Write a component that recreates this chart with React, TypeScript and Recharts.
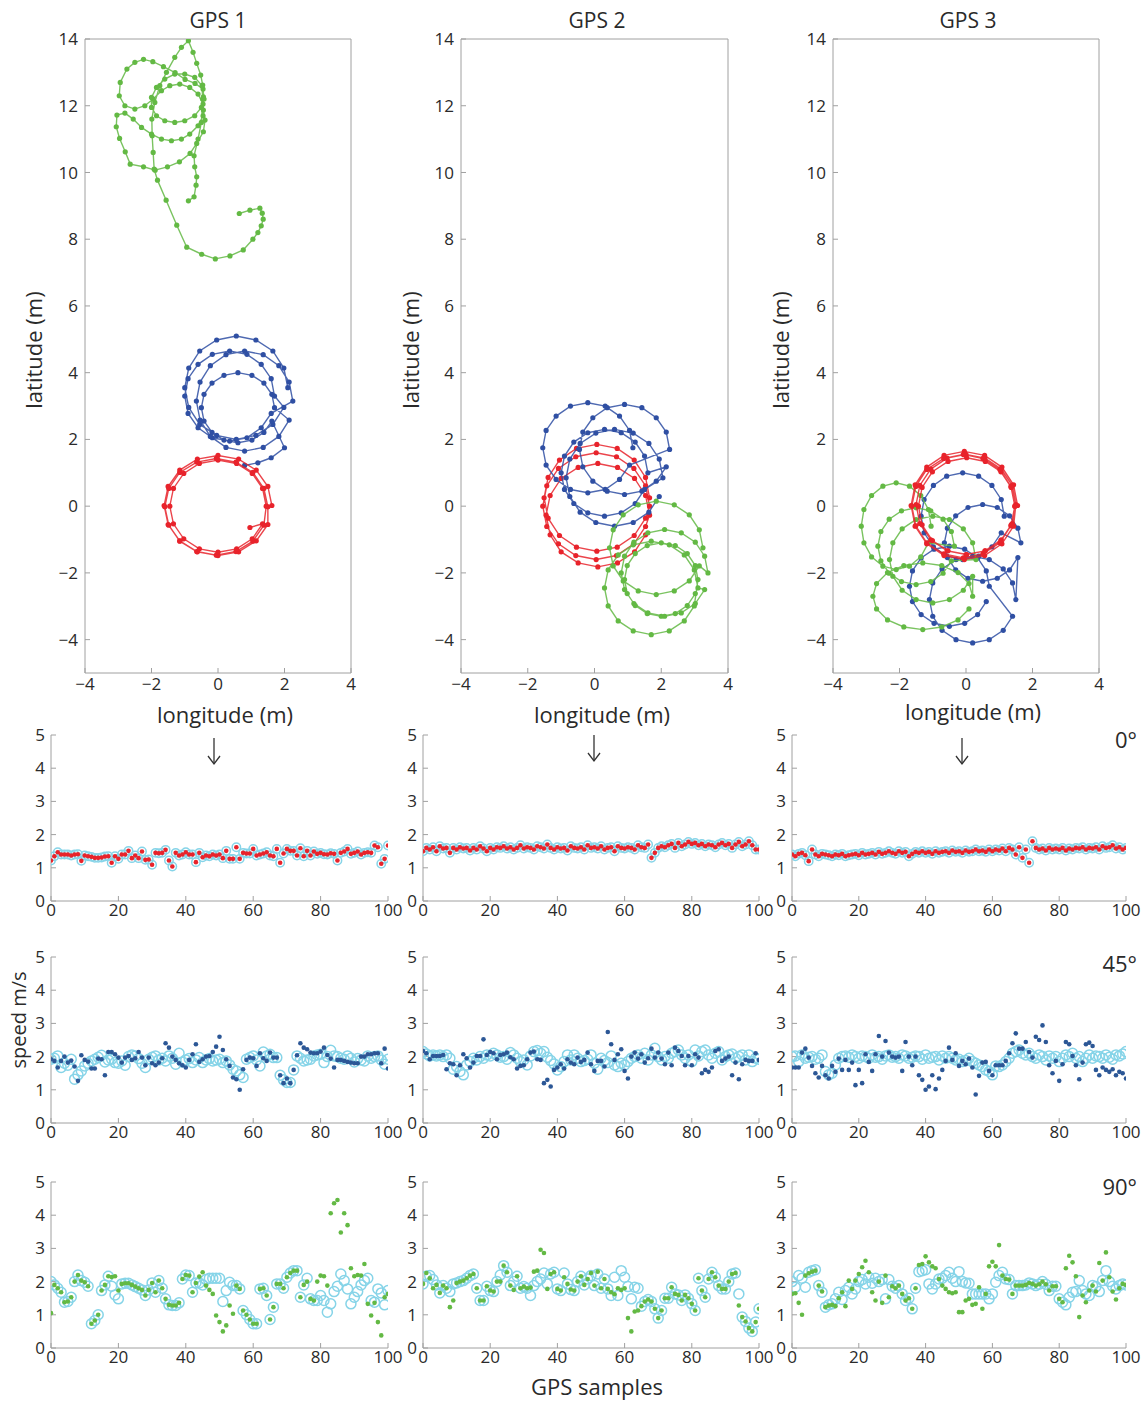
import React from 'react';
import { ScatterChart, Scatter, XAxis, YAxis } from 'recharts';

const FONT = '"Open Sans", "Noto Sans", "DejaVu Sans", sans-serif';
const AXIS = '#a0a0a0';
const TXT = '#2a2a2a';
const RED = '#e8232b';
const BLUE = '#2f4fa3';
const GREEN = '#63b944';
const DARKDOT = '#2c5796';
const RING = '#86d4e8';

// ---------- trajectories (longitude / latitude, m) ----------
const gps1RedX = [1.62,1.50,1.15,0.62,0,-0.62,-1.15,-1.50,-1.62,-1.50,-1.15,-0.62,0,0.62,1.15,1.50,
  1.50,1.38,1.05,0.54,-0.05,-0.64,-1.15,-1.48,-1.60,-1.48,-1.15,-0.64,-0.05,0.54,1.05,1.38,
  1.45,1.34,1.03,0.56,0,-0.56,-1.03,-1.34,-1.45,-1.34,-1.03,-0.56,0,0.56,1.03,1.34,0.96];
const gps1RedY = [0.02,0.59,1.08,1.41,1.52,1.41,1.08,0.59,0.02,-0.55,-1.04,-1.37,-1.48,-1.37,-1.04,-0.55,
  -0.02,0.53,1.01,1.32,1.43,1.32,1.01,0.53,-0.02,-0.57,-1.05,-1.36,-1.47,-1.36,-1.05,-0.57,
  0,0.53,0.98,1.28,1.38,1.28,0.98,0.53,0,-0.53,-0.98,-1.28,-1.38,-1.28,-0.98,-0.53,-0.64];

const gps1BlueX = [2.10,1.98,1.65,1.14,0.55,-0.04,-0.55,-0.88,-1.0,-0.88,-0.55,-0.04,0.55,1.14,1.65,1.98,
  1.70,1.60,1.30,0.87,0.35,-0.17,-0.60,-0.90,-1.0,-0.90,-0.60,-0.17,0.35,0.87,1.30,1.60,
  2.25,2.14,1.83,1.36,0.8,0.24,-0.23,-0.54,-0.65,-0.54,-0.23,0.24,0.8,1.36,1.83,2.14,
  1.70,1.62,1.38,1.02,0.6,0.18,-0.18,-0.42,-0.5,-0.42,-0.18,0.18,0.6,1.02,1.38,1.62,
  2.0,1.6,1.2,0.8];
const gps1BlueY = [3.55,4.14,4.65,4.98,5.10,4.98,4.65,4.14,3.55,2.96,2.45,2.12,2.0,2.12,2.45,2.96,
  3.3,3.82,4.25,4.55,4.65,4.55,4.25,3.82,3.3,2.78,2.35,2.05,1.95,2.05,2.35,2.78,
  3.15,3.72,4.21,4.54,4.65,4.54,4.21,3.72,3.15,2.58,2.09,1.76,1.65,1.76,2.09,2.58,
  2.95,3.35,3.69,3.92,4.0,3.92,3.69,3.35,2.95,2.55,2.21,1.98,1.9,1.98,2.21,2.55,
  1.75,1.45,1.3,1.22];

const gps1GreenX = [0.64,0.96,1.26,1.33,1.36,1.3,1.2,1.05,0.76,0.36,-0.08,-0.49,-0.94,-1.24,-1.56,-1.82,-1.92,-1.95,-1.98,-1.99,
  -1.9,-1.75,-1.55,-1.3,-1.1,-0.89,-0.75,-0.64,-0.52,-0.46,-0.44,-0.44,-0.39,-0.44,-0.64,-0.84,-1.16,-1.52,-1.89,-2.24,
  -2.64,-2.79,-2.96,-3.06,-3.04,-2.8,-2.55,-2.3,-2.0,-1.7,-1.4,-1.1,-0.85,-0.6,-0.45,-0.45,-0.6,-0.85,-1.15,-1.45,
  -1.7,-1.95,-2.2,-2.5,-2.8,-2.97,-2.94,-2.74,-2.5,-2.24,-1.96,-1.64,-1.29,-0.99,-0.69,-0.45,-0.42,-0.5,-0.7,-1.0,
  -1.3,-1.6,-1.85,-2.0,-2.0,-1.85,-1.6,-1.3,-1.0,-0.7,-0.48,-0.46,-0.5,-0.6,-0.72,-0.7,-0.64,-0.66,-0.72,-0.89];
const gps1GreenY = [8.77,8.87,8.93,8.78,8.6,8.4,8.2,8.0,7.68,7.5,7.41,7.55,7.76,8.42,9.17,9.77,10.1,10.6,11.1,11.6,
  12.1,12.6,13.0,13.45,13.75,13.95,13.6,13.27,12.92,12.62,12.27,11.87,11.57,11.22,10.87,10.57,10.32,10.17,10.07,10.17,
  10.25,10.62,11.02,11.37,11.72,11.78,11.6,11.35,11.15,11.0,10.95,11.0,11.15,11.4,11.7,12.05,12.35,12.55,12.65,12.6,
  12.45,12.2,12.0,11.9,12.0,12.3,12.7,13.1,13.3,13.39,13.32,13.17,12.99,12.79,12.67,12.5,12.2,11.95,11.7,11.55,
  11.5,11.55,11.7,11.95,12.25,12.55,12.8,12.95,12.95,12.85,12.6,12.2,11.5,11.0,10.5,10.17,9.87,9.62,9.27,9.15];

const gps2RedX = [1.65,1.53,1.19,0.68,0.07,-0.54,-1.05,-1.39,-1.51,-1.39,-1.05,-0.54,0.07,0.68,1.19,1.53,
  1.65,1.53,1.18,0.66,0.05,-0.56,-1.08,-1.43,-1.55,-1.43,-1.08,-0.56,0.05,0.66,1.18,1.53,
  1.65,1.53,1.20,0.69,0.1,-0.49,-1.0,-1.33,-1.45,-1.33,-1.0,-0.49,0.1,0.69,1.20,1.53];
const gps2RedY = [0.25,0.86,1.38,1.73,1.85,1.73,1.38,0.86,0.25,-0.36,-0.88,-1.23,-1.35,-1.23,-0.88,-0.36,
  0,0.61,1.13,1.48,1.6,1.48,1.13,0.61,0,-0.61,-1.13,-1.48,-1.6,-1.48,-1.13,-0.61,
  -0.27,0.32,0.83,1.16,1.28,1.16,0.83,0.32,-0.27,-0.86,-1.37,-1.70,-1.82,-1.70,-1.37,-0.86];

const gps2BlueX = [1.15,1.05,0.75,0.32,-0.2,-0.72,-1.15,-1.45,-1.55,-1.45,-1.15,-0.72,-0.2,0.32,0.75,1.05,
  2.25,2.15,1.85,1.42,0.9,0.38,-0.05,-0.35,-0.45,-0.35,-0.05,0.38,0.9,1.42,1.85,2.15,
  1.6,1.5,1.22,0.8,0.3,-0.2,-0.62,-0.9,-1.0,-0.9,-0.62,-0.2,0.3,0.8,1.22,1.5,
  2.05,1.94,1.63,1.16,0.6,0.04,-0.43,-0.74,-0.85,-0.74,-0.43,0.04,0.6,1.16,1.63,1.94];
const gps2BlueY = [1.75,2.27,2.70,3.0,3.1,3.0,2.70,2.27,1.75,1.23,0.80,0.50,0.40,0.50,0.80,1.23,
  1.7,2.22,2.65,2.95,3.05,2.95,2.65,2.22,1.7,1.18,0.75,0.45,0.35,0.45,0.75,1.18,
  1.0,1.5,1.92,2.2,2.3,2.2,1.92,1.5,1.0,0.5,0.08,-0.2,-0.3,-0.2,0.08,0.5,
  0.85,1.41,1.88,2.19,2.3,2.19,1.88,1.41,0.85,0.29,-0.18,-0.49,-0.6,-0.49,-0.18,0.29];

const gps2GreenX = [3.25,3.14,2.84,2.39,1.85,1.31,0.86,0.56,0.45,0.56,0.86,1.31,1.85,2.39,2.84,3.14,
  3.4,3.3,3.02,2.6,2.1,1.6,1.18,0.9,0.8,0.9,1.18,1.6,2.1,2.6,3.02,3.3,
  3.1,2.99,2.69,2.24,1.7,1.16,0.71,0.41,0.3,0.41,0.71,1.16,1.7,2.24,2.69,2.99,
  3.1,3.02,2.78,2.42,2.0,1.58,1.22,0.98,0.9,0.98,1.22,1.58,2.0,2.42,2.78,3.02];
const gps2GreenY = [-1.25,-0.71,-0.26,0.04,0.15,0.04,-0.26,-0.71,-1.25,-1.79,-2.24,-2.54,-2.65,-2.54,-2.24,-1.79,
  -2.0,-1.5,-1.08,-0.8,-0.7,-0.8,-1.08,-1.5,-2.0,-2.5,-2.92,-3.2,-3.3,-3.2,-2.92,-2.5,
  -2.45,-1.91,-1.46,-1.16,-1.05,-1.16,-1.46,-1.91,-2.45,-2.99,-3.44,-3.74,-3.85,-3.74,-3.44,-2.99,
  -2.2,-1.78,-1.42,-1.18,-1.1,-1.18,-1.42,-1.78,-2.2,-2.62,-2.98,-3.22,-3.3,-3.22,-2.98,-2.62];

const gps3RedX = [1.55,1.43,1.08,0.56,-0.05,-0.66,-1.18,-1.53,-1.65,-1.53,-1.18,-0.66,-0.05,0.56,1.08,1.43,
  1.5,1.39,1.06,0.57,0,-0.57,-1.06,-1.39,-1.5,-1.39,-1.06,-0.57,0,0.57,1.06,1.39,
  1.47,1.35,1.02,0.51,-0.08,-0.67,-1.18,-1.51,-1.63,-1.51,-1.18,-0.67,-0.08,0.51,1.02,1.35,
  1.47,1.36,1.05,0.58,0.02,-0.54,-1.01,-1.32,-1.43,-1.32,-1.01,-0.54,0.02,0.58,1.05,1.36];
const gps3RedY = [0.02,0.64,1.17,1.52,1.64,1.52,1.17,0.64,0.02,-0.60,-1.13,-1.48,-1.60,-1.48,-1.13,-0.60,
  0.05,0.62,1.11,1.44,1.55,1.44,1.11,0.62,0.05,-0.52,-1.01,-1.34,-1.45,-1.34,-1.01,-0.52,
  0,0.59,1.10,1.43,1.55,1.43,1.10,0.59,0,-0.59,-1.10,-1.43,-1.55,-1.43,-1.10,-0.59,
  0,0.56,1.03,1.34,1.45,1.34,1.03,0.56,0,-0.56,-1.03,-1.34,-1.45,-1.34,-1.03,-0.56];

const gps3BlueX = [1.15,1.06,0.78,0.38,-0.1,-0.58,-0.98,-1.26,-1.35,-1.26,-0.98,-0.58,-0.1,0.38,0.78,1.06,
  1.65,1.56,1.31,0.94,0.5,0.06,-0.31,-0.56,-0.65,-0.56,-0.31,0.06,0.5,0.94,1.31,1.56,
  1.5,1.4,1.12,0.7,0.2,-0.3,-0.72,-1.0,-1.1,-1.0,-0.72,-0.3,0.2,0.7,1.12,1.4,
  0.7,0.61,0.35,-0.04,-0.5,-0.96,-1.35,-1.61,-1.7,-1.61,-1.35,-0.96,-0.5,-0.04,0.35,0.61];
const gps3BlueY = [-0.3,0.2,0.62,0.9,1.0,0.9,0.62,0.2,-0.3,-0.8,-1.22,-1.5,-1.6,-1.5,-1.22,-0.8,
  -1.1,-0.66,-0.29,-0.04,0.05,-0.04,-0.29,-0.66,-1.1,-1.54,-1.91,-2.16,-2.25,-2.16,-1.91,-1.54,
  -2.8,-2.3,-1.88,-1.6,-1.5,-1.6,-1.88,-2.3,-2.8,-3.3,-3.72,-4.0,-4.1,-4.0,-3.72,-3.3,
  -2.4,-1.94,-1.55,-1.29,-1.2,-1.29,-1.55,-1.94,-2.4,-2.86,-3.25,-3.51,-3.6,-3.51,-3.25,-2.86];

const gps3GreenX = [-1.05,-1.13,-1.36,-1.7,-2.1,-2.5,-2.84,-3.07,-3.15,-3.07,-2.84,-2.5,-2.1,-1.7,-1.36,-1.13,
  -0.35,-0.44,-0.69,-1.06,-1.5,-1.94,-2.31,-2.56,-2.65,-2.56,-2.31,-1.94,-1.5,-1.06,-0.69,-0.44,
  0.3,0.2,-0.08,-0.5,-1.0,-1.5,-1.92,-2.2,-2.3,-2.2,-1.92,-1.5,-1.0,-0.5,-0.08,0.2,
  0.2,0.09,-0.24,-0.73,-1.3,-1.87,-2.36,-2.69,-2.8,-2.69,-2.36,-1.87,-1.3,-0.73,-0.24,0.09];
const gps3GreenY = [-0.6,-0.1,0.32,0.6,0.7,0.6,0.32,-0.1,-0.6,-1.1,-1.52,-1.8,-1.9,-1.8,-1.52,-1.1,
  -1.2,-0.76,-0.39,-0.14,-0.05,-0.14,-0.39,-0.76,-1.2,-1.64,-2.01,-2.26,-2.35,-2.26,-2.01,-1.64,
  -1.6,-1.1,-0.68,-0.4,-0.3,-0.4,-0.68,-1.1,-1.6,-2.1,-2.52,-2.8,-2.9,-2.8,-2.52,-2.1,
  -2.7,-2.32,-1.99,-1.78,-1.7,-1.78,-1.99,-2.32,-2.7,-3.08,-3.41,-3.62,-3.7,-3.62,-3.41,-3.08];

// ---------- speeds (m/s) per GPS sample ----------
const speed0g1 = [1.22,1.35,1.47,1.4,1.4,1.4,1.37,1.4,1.41,1.21,1.37,1.35,1.33,1.3,1.3,1.31,1.34,1.35,1.15,1.35,
  1.27,1.4,1.4,1.51,1.29,1.37,1.29,1.49,1.24,1.25,1.09,1.45,1.44,1.45,1.54,1.22,1.04,1.45,1.37,1.4,
  1.47,1.4,1.4,1.17,1.45,1.32,1.37,1.35,1.4,1.37,1.4,1.29,1.51,1.27,1.27,1.62,1.27,1.45,1.43,1.43,
  1.57,1.37,1.4,1.43,1.47,1.37,1.35,1.57,1.15,1.43,1.57,1.51,1.51,1.37,1.59,1.35,1.51,1.37,1.49,1.42,
  1.45,1.41,1.4,1.44,1.42,1.22,1.45,1.49,1.57,1.42,1.45,1.49,1.4,1.45,1.47,1.45,1.67,1.62,1.12,1.27,1.67];
const speed0g2 = [1.5,1.6,1.55,1.62,1.5,1.65,1.58,1.6,1.45,1.6,1.55,1.62,1.58,1.6,1.52,1.6,1.55,1.65,1.58,1.5,
  1.6,1.55,1.62,1.6,1.65,1.58,1.62,1.55,1.6,1.68,1.58,1.62,1.6,1.55,1.65,1.62,1.58,1.7,1.6,1.55,
  1.62,1.58,1.6,1.52,1.65,1.6,1.58,1.62,1.55,1.68,1.6,1.62,1.58,1.65,1.55,1.6,1.62,1.5,1.65,1.6,
  1.58,1.62,1.6,1.55,1.68,1.62,1.6,1.7,1.3,1.45,1.6,1.65,1.62,1.68,1.72,1.6,1.75,1.65,1.7,1.78,
  1.72,1.75,1.68,1.72,1.65,1.7,1.68,1.62,1.7,1.75,1.68,1.72,1.6,1.7,1.78,1.65,1.7,1.8,1.68,1.55,1.55];
const speed0g3 = [1.4,1.35,1.42,1.45,1.38,1.2,1.55,1.4,1.35,1.42,1.4,1.38,1.35,1.4,1.38,1.42,1.35,1.38,1.4,1.42,
  1.38,1.45,1.4,1.42,1.45,1.4,1.48,1.42,1.45,1.5,1.45,1.42,1.5,1.45,1.48,1.35,1.42,1.48,1.45,1.5,
  1.45,1.48,1.42,1.5,1.45,1.48,1.5,1.45,1.52,1.48,1.5,1.45,1.52,1.48,1.5,1.55,1.5,1.52,1.48,1.55,
  1.5,1.55,1.52,1.58,1.5,1.6,1.55,1.4,1.62,1.3,1.55,1.15,1.8,1.6,1.55,1.58,1.52,1.6,1.55,1.58,
  1.55,1.6,1.52,1.58,1.55,1.6,1.58,1.62,1.55,1.6,1.58,1.62,1.55,1.65,1.6,1.62,1.68,1.58,1.62,1.55,1.6];

const ref45g1 = [1.92,1.95,2.02,1.67,1.8,1.74,1.92,1.32,1.45,1.57,1.72,1.8,1.87,1.92,1.98,2.04,1.84,1.9,1.92,1.82,
  1.8,1.87,1.74,2.0,2.05,2.02,1.94,1.8,1.67,1.92,1.98,2.02,1.9,1.95,1.87,2.02,1.95,1.77,2.1,1.84,
  1.9,1.94,1.82,1.9,1.97,1.82,1.9,1.94,1.87,1.9,1.92,1.82,1.87,1.75,1.62,1.57,1.45,1.37,1.92,1.97,
  2.02,1.9,1.72,2.14,2.02,2.07,1.97,1.97,1.44,1.3,1.22,1.22,1.6,2.02,1.95,1.87,1.9,1.92,2.02,2.05,
  2.07,1.82,2.0,2.19,2.02,2.0,1.95,1.92,2.02,1.95,1.84,1.94,1.9,1.87,2.02,1.95,2.0,2.02,1.9,1.77,1.92];
const gps45g1 = [1.92,1.87,1.67,1.87,2.0,1.82,1.88,1.7,1.27,2.04,1.9,1.85,1.64,1.64,1.94,1.92,1.44,2.14,2.14,2.07,
  1.97,1.82,1.97,2.02,1.9,1.95,2.14,1.97,1.74,1.97,1.8,1.74,1.82,1.95,2.4,2.27,2.0,1.9,1.8,1.74,
  1.67,1.9,2.07,2.37,1.84,1.92,2.0,2.02,2.14,2.3,2.6,2.2,1.92,1.72,1.37,1.32,1.0,1.62,1.9,1.97,
  1.95,1.72,2.1,1.95,1.87,2.12,1.97,1.97,1.44,1.2,1.34,1.2,1.6,2.04,2.4,2.27,2.22,2.12,2.1,2.1,
  2.15,2.27,2.05,1.94,1.67,1.9,1.9,1.87,1.84,1.82,1.8,1.8,2.0,2.0,2.07,2.07,2.1,2.1,1.8,2.24,1.64];
const ref45g2 = [2.15,2.08,2.02,2.05,2.02,2.05,2.0,2.05,1.95,1.62,1.7,1.55,1.45,1.75,1.85,1.95,1.9,2.0,1.95,2.05,
  2.02,2.1,2.05,1.98,2.0,1.92,2.12,2.05,1.95,1.85,1.9,1.75,2.02,2.15,2.18,2.1,2.15,1.98,1.88,1.78,
  1.6,1.7,1.85,2.05,1.9,2.05,1.95,1.85,1.88,1.92,2.05,1.8,1.62,1.95,1.88,1.82,2.02,1.75,1.7,1.8,
  1.75,1.85,1.95,2.0,2.05,1.95,2.1,1.9,2.05,2.25,2.0,1.9,2.0,1.95,2.1,2.15,2.2,2.05,1.95,2.05,
  1.85,2.2,2.02,2.15,2.2,2.05,1.95,2.1,2.15,1.9,2.0,2.05,2.08,1.95,2.0,2.05,1.9,2.05,1.85,1.95,1.92];
const gps45g2 = [2.17,2.1,1.92,2.02,2.02,2.02,2.05,1.62,1.8,1.77,1.44,1.74,2.07,1.95,1.67,1.82,2.02,2.02,2.52,2.05,
  2.14,2.1,1.92,2.05,2.07,2.12,1.98,1.92,1.64,1.72,1.74,1.92,2.12,2.15,1.92,1.9,1.2,1.3,1.1,1.6,
  1.67,1.77,1.64,1.92,1.82,1.77,1.97,1.84,1.9,2.12,1.77,1.57,1.87,1.87,1.7,2.74,2.37,1.9,2.07,2.22,
  1.57,1.34,2.0,2.12,1.94,2.07,1.82,1.95,2.24,1.97,2.12,1.94,1.77,2.12,1.74,2.27,2.17,2.02,1.74,2.02,
  1.74,2.07,1.97,1.5,1.6,1.54,1.67,2.17,2.22,1.87,1.94,2.0,1.44,1.82,1.32,1.77,1.9,1.87,1.87,2.1,1.9];
const ref45g3 = [2.0,2.02,1.85,2.05,1.95,1.98,2.0,1.92,1.95,2.05,1.55,1.45,1.5,1.75,1.95,2.0,2.02,1.98,2.05,2.0,
  1.95,2.02,2.0,1.95,2.05,1.98,2.0,1.92,2.02,2.05,1.98,2.0,1.95,2.05,2.02,1.95,1.98,2.02,2.0,1.92,
  2.05,1.95,1.98,2.0,1.9,2.02,1.95,2.0,1.95,1.9,1.92,1.85,1.88,1.95,1.85,1.8,1.75,1.7,1.6,1.55,
  1.45,1.72,1.7,1.75,1.85,1.95,2.1,2.15,2.2,2.1,2.05,2.1,2.0,1.95,2.05,2.0,1.9,2.02,1.95,2.0,
  1.85,1.95,2.05,2.0,2.1,1.95,2.0,1.85,1.95,2.05,1.95,2.02,2.0,1.95,2.05,1.98,1.92,2.05,2.02,2.08,2.15];
const gps45g3 = [1.67,1.67,1.67,2.12,2.24,1.97,1.72,1.5,1.37,1.72,1.44,1.34,1.72,1.54,1.94,1.6,1.9,1.6,1.82,1.14,
  1.6,1.2,2.07,1.84,1.57,2.07,2.62,2.0,2.47,2.12,2.0,1.97,2.0,1.57,2.44,2.0,1.74,2.0,1.44,1.3,
  1.0,1.1,1.44,1.02,1.34,1.6,1.87,2.27,1.9,2.1,1.72,1.87,1.77,1.94,1.67,0.86,1.42,1.82,1.84,1.57,
  1.44,1.74,1.74,1.74,1.87,2.1,2.4,2.7,2.24,2.24,2.44,2.14,1.97,2.6,2.5,2.94,2.44,1.74,1.5,1.87,
  1.27,1.77,2.44,2.37,2.02,1.74,1.32,1.82,2.37,2.42,2.32,1.6,1.44,1.67,1.6,1.54,1.62,1.44,1.54,1.5,1.34];

const ref90g1 = [2.0,1.9,1.8,1.68,1.38,1.4,1.53,2.0,2.2,2.03,1.98,1.86,0.73,0.83,1.0,1.73,1.9,2.16,1.86,1.6,
  1.48,1.93,1.95,1.95,1.9,1.85,1.8,1.75,1.58,1.75,1.96,1.68,2.03,1.8,1.48,1.3,1.28,1.28,1.36,2.08,
  2.2,2.18,1.68,1.96,1.96,1.9,2.06,2.1,2.1,2.1,2.1,1.4,1.73,1.98,1.88,1.88,1.78,1.13,1.0,0.86,
  0.73,0.73,1.78,1.8,1.58,0.86,1.23,1.93,1.93,1.8,2.13,2.26,2.33,2.33,1.53,1.9,2.1,1.48,1.43,1.43,
  1.58,1.43,1.08,1.33,1.7,1.86,2.23,2.03,1.78,1.33,1.53,1.7,1.9,2.03,2.1,1.43,1.38,1.78,1.66,1.3,1.73];
const gps90g1 = [1.05,1.9,1.8,1.68,1.38,1.4,1.53,2.0,2.2,2.03,1.98,1.86,0.73,0.83,1.0,1.73,1.9,2.16,2.14,2.16,
  1.73,1.93,1.95,1.95,1.9,1.85,1.8,1.75,1.58,1.75,1.96,1.68,2.03,1.8,1.48,1.3,1.28,1.28,1.36,2.08,
  2.2,2.18,1.68,1.96,2.15,2.28,1.88,1.75,1.63,0.98,0.78,0.5,0.68,1.28,1.03,1.88,1.78,1.13,1.0,0.86,
  0.73,0.73,1.78,1.8,1.58,0.86,1.23,1.93,1.93,1.8,2.13,2.26,2.33,2.33,1.53,1.9,2.0,1.48,1.43,2.0,
  2.18,2.16,1.88,4.06,4.36,4.46,3.48,4.06,3.7,2.4,2.16,2.2,2.18,2.53,1.33,0.98,1.36,0.78,0.38,1.53,1.63];
const ref90g2 = [1.93,2.16,2.18,2.06,1.9,1.66,1.88,1.8,1.7,1.93,1.96,2.0,2.03,2.1,2.18,2.23,1.8,1.43,1.43,1.86,
  1.73,1.7,2.0,2.2,2.48,2.28,1.88,2.0,2.16,1.8,1.85,1.8,1.58,1.88,2.0,2.08,2.26,1.93,2.23,2.28,
  1.78,1.73,2.26,1.93,1.76,1.73,2.0,2.16,1.9,2.08,2.18,1.88,2.23,1.8,2.08,1.78,1.58,2.13,1.58,2.33,
  2.13,1.85,1.48,1.83,1.8,1.26,1.4,1.46,1.4,1.18,0.9,1.13,1.5,1.5,1.83,1.63,1.6,1.43,1.6,1.5,
  1.33,1.13,2.1,1.73,1.53,2.08,2.28,2.13,1.88,1.78,1.78,2.0,2.23,2.26,1.63,0.93,0.8,0.6,0.5,0.78,1.18];
const gps90g2 = [1.93,2.26,2.1,1.8,1.9,1.66,1.88,1.8,1.23,1.43,1.96,2.0,2.03,2.1,2.18,2.23,1.8,1.43,1.43,1.86,
  1.73,1.7,2.0,2.0,2.48,2.28,1.88,1.75,2.16,1.8,1.85,1.8,1.82,2.3,2.33,2.96,2.86,1.78,2.23,2.28,
  1.78,1.73,2.13,1.93,1.76,1.73,2.0,2.16,1.9,2.08,2.26,1.88,2.3,1.8,2.08,1.78,1.68,1.62,1.8,1.75,
  1.8,0.9,0.5,1.1,1.13,1.26,1.4,1.46,1.4,1.18,0.9,1.13,1.5,1.5,1.83,1.63,1.6,1.43,1.6,1.5,
  1.33,1.13,2.1,1.73,1.53,2.08,2.28,2.13,1.88,1.78,1.78,2.0,2.23,2.26,1.28,0.93,0.8,0.6,0.5,0.78,1.18];
const ref90g3 = [2.0,1.83,2.18,2.1,1.83,2.28,2.33,2.36,1.88,1.68,1.23,1.3,1.33,1.48,1.68,1.46,1.73,1.83,1.63,1.78,
  2.0,2.06,1.93,2.13,1.95,2.1,2.0,2.06,1.48,2.06,1.86,1.8,1.88,1.63,1.43,1.5,1.18,1.8,2.3,2.33,
  2.36,1.93,1.78,1.93,2.08,2.1,2.18,2.28,2.1,2.0,2.3,2.0,1.96,1.95,1.63,1.63,1.63,1.63,1.63,1.48,
  1.63,1.98,2.18,2.28,2.08,2.06,1.63,1.88,1.88,1.88,1.9,1.96,1.93,1.88,1.92,2.0,1.92,1.73,1.86,1.86,
  1.48,1.38,1.3,1.53,1.68,1.7,2.03,1.73,1.63,1.58,1.88,1.85,1.7,2.03,2.33,2.0,1.86,1.78,1.88,1.93,1.9];
const gps90g3 = [1.63,1.65,1.36,1.0,2.18,2.25,2.3,2.33,1.88,1.7,1.23,1.28,1.3,1.26,1.5,1.68,1.26,2.03,1.78,2.03,
  2.23,2.43,2.63,2.28,1.68,1.43,2.0,1.36,2.18,1.53,1.86,1.8,1.88,1.63,1.43,1.5,1.18,1.8,2.5,2.53,
  2.76,2.58,2.46,2.4,2.08,1.88,1.78,1.68,1.65,1.68,1.08,1.08,1.43,1.48,1.3,1.33,1.83,1.18,1.63,2.46,
  2.6,2.46,3.1,2.18,2.08,2.06,1.63,1.88,1.88,1.88,1.9,1.96,1.93,1.88,1.92,2.0,1.92,1.73,1.86,1.86,
  1.48,1.38,2.4,2.78,2.58,2.16,0.93,1.58,1.38,1.73,1.88,1.7,2.56,2.03,2.88,2.13,1.7,1.46,1.8,1.93,1.9];

const latTicks = [-4, -2, 0, 2, 4, 6, 8, 10, 12, 14];
const lonTicks = [-4, -2, 0, 2, 4];
const speedTicks = [0, 1, 2, 3, 4, 5];
const sampleTicks = [0, 20, 40, 60, 80, 100];
const gpsTitles = ['GPS 1', 'GPS 2', 'GPS 3'];
const angleLabels = ['0°', '45°', '90°'];

const fmt = (v: number) => (v < 0 ? '\u2212' + String(-v) : String(v));
const toPts = (xs: number[], ys: number[]) => xs.map((x, i) => ({ x, y: ys[i] }));
const toSeries = (vals: number[]) => vals.slice(0, 101).map((y, i) => ({ x: i, y }));

const tickStyle = { fill: TXT, fontSize: 17, fontFamily: FONT };

const makeDot = (color: string, r: number) => (p: any) =>
  p.cx == null ? <g /> : <circle cx={p.cx} cy={p.cy} r={r} fill={color} stroke="none" />;
const makeRing = (r: number) => (p: any) =>
  p.cx == null ? <g /> : <circle cx={p.cx} cy={p.cy} r={r} fill="none" stroke={RING} strokeWidth={1.5} />;

type Traj = { xs: number[]; ys: number[]; color: string };

function TrackPlot({ left, plotW, tracks }: { left: number; plotW: number; tracks: Traj[] }) {
  const plotH = 634;
  const topPad = 22;
  return (
    <div style={{ position: 'absolute', left: left - 50, top: 39 - topPad }}>
      <ScatterChart width={50 + plotW + 12} height={topPad + plotH + 40}
        margin={{ top: 12, right: 2, bottom: 0, left: 0 }}>
        <XAxis xAxisId="b" type="number" dataKey="x" domain={[-4, 4]} ticks={lonTicks} height={40}
          allowDataOverflow tickFormatter={fmt} tick={tickStyle} stroke={AXIS} tickSize={-5} tickMargin={10} />
        <XAxis xAxisId="t" orientation="top" type="number" domain={[-4, 4]} ticks={lonTicks} height={10}
          allowDataOverflow tick={false} stroke={AXIS} tickSize={-5} />
        <YAxis yAxisId="l" type="number" dataKey="y" domain={[-5, 14]} ticks={latTicks} width={50}
          allowDataOverflow tickFormatter={fmt} tick={tickStyle} stroke={AXIS} tickSize={-5} tickMargin={12} />
        <YAxis yAxisId="r" orientation="right" type="number" domain={[-5, 14]} ticks={latTicks} width={10}
          allowDataOverflow tick={false} stroke={AXIS} tickSize={-5} />
        {tracks.map((t, i) => (
          <Scatter key={i} xAxisId="b" yAxisId="l" data={toPts(t.xs, t.ys)} isAnimationActive={false}
            line={{ stroke: t.color, strokeWidth: 1.4, strokeOpacity: 0.85 }} lineType="joint"
            shape={makeDot(t.color, 2.6)} />
        ))}
      </ScatterChart>
    </div>
  );
}

function SpeedPlot({ left, top, plotW, refVals, gpsVals, color, rightPad, ringR }:
  { left: number; top: number; plotW: number; refVals: number[]; gpsVals: number[]; color: string; rightPad: number; ringR: number }) {
  const plotH = 166;
  return (
    <div style={{ position: 'absolute', left: left - 40, top: top - 12 }}>
      <ScatterChart width={40 + plotW + rightPad} height={12 + plotH + 30}
        margin={{ top: 12, right: rightPad, bottom: 0, left: 0 }}>
        <XAxis type="number" dataKey="x" domain={[0, 100]} ticks={sampleTicks} height={30}
          allowDataOverflow tick={tickStyle} stroke={AXIS} tickSize={-5} tickMargin={8} />
        <YAxis type="number" dataKey="y" domain={[0, 5]} ticks={speedTicks} width={40}
          allowDataOverflow tick={tickStyle} stroke={AXIS} tickSize={-5} tickMargin={11} />
        <Scatter data={toSeries(refVals)} isAnimationActive={false} shape={makeRing(ringR)} />
        <Scatter data={toSeries(gpsVals)} isAnimationActive={false} shape={makeDot(color, 2.3)} />
      </ScatterChart>
    </div>
  );
}

const topCols = [
  { left: 85, w: 266, tracks: [
    { xs: gps1BlueX, ys: gps1BlueY, color: BLUE },
    { xs: gps1RedX, ys: gps1RedY, color: RED },
    { xs: gps1GreenX, ys: gps1GreenY, color: GREEN }] },
  { left: 461, w: 267, tracks: [
    { xs: gps2RedX, ys: gps2RedY, color: RED },
    { xs: gps2BlueX, ys: gps2BlueY, color: BLUE },
    { xs: gps2GreenX, ys: gps2GreenY, color: GREEN }] },
  { left: 833, w: 266, tracks: [
    { xs: gps3BlueX, ys: gps3BlueY, color: BLUE },
    { xs: gps3GreenX, ys: gps3GreenY, color: GREEN },
    { xs: gps3RedX, ys: gps3RedY, color: RED }] },
];

const speedCols = [
  { left: 51, w: 337, pad: 15 },
  { left: 423, w: 336, pad: 15 },
  { left: 792, w: 334, pad: 19 },
];
const speedRows = [
  { top: 735, color: RED, ringR: 4.2, refs: [speed0g1, speed0g2, speed0g3], gps: [speed0g1, speed0g2, speed0g3] },
  { top: 957, color: DARKDOT, ringR: 5, refs: [ref45g1, ref45g2, ref45g3], gps: [gps45g1, gps45g2, gps45g3] },
  { top: 1182, color: GREEN, ringR: 5, refs: [ref90g1, ref90g2, ref90g3], gps: [gps90g1, gps90g2, gps90g3] },
];

export default function App() {
  const titleX = [218, 597, 968];
  const arrowX = [214, 594, 962];
  const arrowY = [738, 735, 738];
  const lonLabelY = [716, 716, 713];
  return (
    <div style={{ position: 'absolute', left: 0, top: 0, width: 1148, height: 1403, background: '#fff', overflow: 'hidden' }}>
      <svg width={1148} height={1403} style={{ position: 'absolute', left: 0, top: 0 }} fontFamily={FONT}>
        {gpsTitles.map((t, i) => (
          <text key={t} x={titleX[i]} y={28} textAnchor="middle" fontSize={21} fill={TXT}>{t}</text>
        ))}
        {[42, 419, 789].map((x, i) => (
          <text key={'lat' + i} transform={`translate(${x},350) rotate(-90)`} textAnchor="middle" fontSize={22} fill={TXT}>latitude (m)</text>
        ))}
        {[225, 602, 973].map((x, i) => (
          <text key={'lon' + i} x={x} y={lonLabelY[i] + 7} textAnchor="middle" fontSize={22} fill={TXT}>longitude (m)</text>
        ))}
        {arrowX.map((x, i) => (
          <g key={'ar' + i} stroke="#333" strokeWidth={1.3} fill="none">
            <line x1={x} y1={arrowY[i]} x2={x} y2={arrowY[i] + 26} />
            <polyline points={`${x - 6},${arrowY[i] + 18} ${x},${arrowY[i] + 26} ${x + 6},${arrowY[i] + 18}`} />
          </g>
        ))}
        {angleLabels.map((t, i) => (
          <text key={t} x={1137} y={[748, 972, 1195][i]} textAnchor="end" fontSize={22} fill={TXT}>{t}</text>
        ))}
        <text transform="translate(26,1020) rotate(-90)" textAnchor="middle" fontSize={20} fill={TXT}>speed m/s</text>
        <text x={597} y={1395} textAnchor="middle" fontSize={22} fill={TXT}>GPS samples</text>
      </svg>
      {topCols.map((c, i) => (
        <TrackPlot key={'t' + i} left={c.left} plotW={c.w} tracks={c.tracks} />
      ))}
      {speedRows.map((r, ri) =>
        speedCols.map((c, ci) => (
          <SpeedPlot key={'s' + ri + ci} left={c.left} top={r.top} plotW={c.w} rightPad={c.pad}
            refVals={r.refs[ci]} gpsVals={r.gps[ci]} color={r.color} ringR={r.ringR} />
        ))
      )}
    </div>
  );
}
